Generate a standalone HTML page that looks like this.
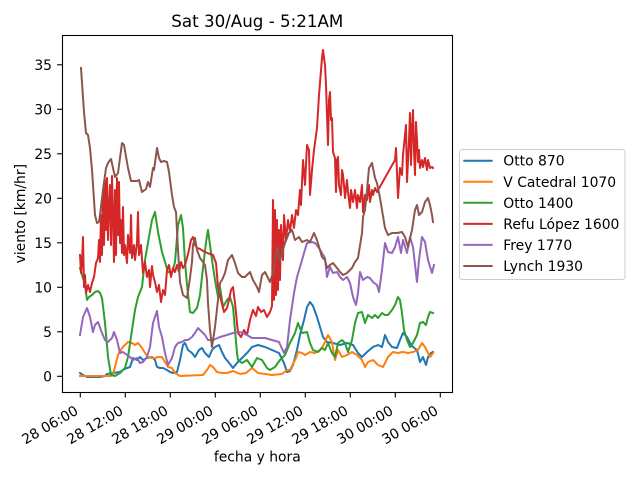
<!DOCTYPE html>
<html><head><meta charset="utf-8"><style>
html,body{margin:0;padding:0;background:#fff;}
svg{display:block;}
text{font-family:"DejaVu Sans","Liberation Sans",sans-serif;fill:#000;}
</style></head><body>
<svg width="640" height="480" viewBox="0 0 640 480" xmlns="http://www.w3.org/2000/svg">
<rect width="640" height="480" fill="#fff"/>
<text x="257.3" y="27" font-size="16.7" text-anchor="middle">Sat 30/Aug - 5:21AM</text>
<g fill="none" stroke-width="2" stroke-linejoin="round" stroke-linecap="square">
<polyline stroke="#1f77b4" points="80,373 83,375 87,377 95,377 100,377 105,376 107,374 113,373 120,372 123,370 127,368 130,367 133,358 137,360 140,357 143,360 147,358 152,357 155,360 157,367 160,368 163,368 167,370 170,372 173,373 177,372 180,360 183,345 185,343 188,350 192,353 195,357 199,350 202,348 205,353 209,357 212,350 215,347 219,345 222,352 225,358 230,364 233,368 237,363 242,358 247,353 252,347 258,345 265,347 272,350 279,353 284,363 287,372 290,371 293,365 297,350 300,335 304,320 307,307 310,302 313,306 317,317 320,327 323,337 327,342 333,343 340,345 347,343 353,345 358,353 362,357 367,352 373,347 378,345 382,347 385,335 388,342 392,347 397,348 400,340 403,333 407,337 410,343 413,347 417,350 420,362 423,357 426,365 428,357 431,353 433,352"/>
<polyline stroke="#ff7f0e" points="80,376 110,376 113,375 115,367 118,355 122,348 125,345 128,342 132,343 135,345 138,343 142,348 145,353 148,357 152,358 155,358 158,357 162,357 165,362 168,367 172,368 175,373 180,376 203,375 207,370 210,365 213,367 217,372 222,373 227,373 233,371 240,374 246,373 252,368 258,373 265,374 272,375 282,374 287,370 290,370 293,364 296,358 298,352 302,353 305,355 310,352 315,353 320,350 323,346 325,342 328,335 332,342 335,360 338,350 342,357 347,355 352,352 357,355 362,360 365,367 368,362 373,360 378,365 383,367 388,357 393,352 398,353 403,352 408,353 413,352 418,350 422,343 425,347 428,353 430,357 433,353"/>
<polyline stroke="#2ca02c" points="80,268 82,275 85,285 87,300 89,297 92,295 95,292 98,291 100,293 102,298 105,323 108,357 111,375 115,376 120,373 125,368 128,357 132,330 135,310 138,297 142,287 145,260 149,237 152,220 155,212 158,232 162,252 165,262 168,272 172,273 175,262 178,225 181,215 183,228 185,262 187,285 190,312 193,313 197,308 200,295 203,268 206,242 208,230 212,260 215,280 218,297 220,287 223,307 227,300 230,297 233,307 237,353 238,360 242,363 247,360 252,367 257,358 262,360 267,368 270,370 275,367 280,360 285,355 290,343 295,333 298,323 302,333 307,332 310,343 313,350 318,352 322,348 325,350 328,343 332,353 335,357 338,343 342,340 345,343 348,352 352,340 355,323 358,313 362,312 365,323 368,315 372,318 375,315 378,318 382,313 385,315 388,315 392,310 395,305 398,297 400,300 402,313 404,330 407,340 410,347 413,343 417,335 420,323 423,322 426,325 428,317 430,312 433,313"/>
<polyline stroke="#d62728" points="80,255 81,273 82,262 83,237 84,287 85,275 86,293 88,285 90,292 92,283 94,277 96,263 98,258 99,240 100,262 101,215 102,255 103,190 104,245 105,180 106,230 107,178 108,240 109,207 110,185 111,245 112,176 113,215 114,262 115,190 116,255 117,178 118,235 119,182 120,243 121,220 122,253 123,207 124,255 125,245 127,263 128,235 130,253 131,215 132,258 134,245 135,260 137,243 138,212 139,255 141,245 143,273 145,262 147,277 149,270 150,287 152,266 153,275 155,282 157,292 159,285 161,302 163,290 165,295 167,270 169,265 171,277 173,268 175,272 177,265 179,272 181,262 183,268 185,265 187,258 189,250 191,240 193,237 195,245 197,248 200,249 205,252 210,254 213,255 216,263 218,287 221,300 224,312 227,308 229,300 231,290 233,287 235,303 238,333 241,337 244,330 247,335 250,320 253,310 256,316 258,307 261,312 264,310 267,317 270,312 272,306 273,200 274,300 275,210 276,295 277,220 278,290 279,230 280,280 281,225 283,260 284,215 286,240 288,220 290,232 292,215 294,228 296,210 298,215 300,190 301,205 303,160 305,185 307,145 309,150 310,195 312,170 314,150 317,128 319,95 322,58 323,50 325,65 326,85 328,145 329,100 330,92 331,120 332,118 333,152 335,158 336,192 337,160 338,157 339,185 341,195 342,170 343,175 344,185 345,198 347,180 348,192 350,208 351,190 353,202 355,190 357,208 358,195 360,202 362,185 363,212 365,195 367,200 369,185 370,202 372,190 373,195 375,188 377,192 395,160 396,148 398,198 400,168 402,175 403,155 406,125 407,182 409,140 410,113 411,165 412,130 413,110 414,150 415,175 416,122 417,140 418,162 419,150 420,168 422,160 423,167 425,158 427,170 428,160 430,168 432,167 433,168"/>
<polyline stroke="#9467bd" points="80,335 83,317 87,308 90,317 93,332 95,325 98,322 102,333 105,340 108,342 112,338 114,332 117,340 120,353 123,352 127,355 130,357 133,360 137,358 140,363 143,362 147,357 150,347 153,323 157,311 159,327 162,337 165,353 168,365 172,358 175,347 178,343 182,342 185,340 188,340 192,337 195,333 198,328 202,332 205,335 208,340 213,340 220,337 227,335 233,333 240,332 247,335 252,338 259,338 265,338 272,340 279,342 284,353 287,347 290,320 294,293 297,277 300,267 304,253 307,243 312,242 315,243 319,248 322,253 325,258 327,277 330,267 333,273 337,272 340,277 343,280 347,277 350,283 353,297 356,305 358,293 360,272 363,280 367,277 370,278 373,282 377,285 379,292 382,270 385,243 388,252 392,253 395,247 398,237 401,253 403,240 407,253 410,237 413,247 417,282 419,260 422,237 425,242 428,260 432,273 434,265"/>
<polyline stroke="#8c564b" points="81,68 84,112 86,133 88,135 90,148 92,170 94,200 95,215 97,223 99,222 100,215 103,190 106,168 108,163 111,159 113,168 115,177 118,173 122,143 124,145 128,168 131,181 137,181 139,180 142,192 146,189 148,182 150,187 153,168 154,170 157,148 159,158 161,162 164,161 167,162 169,172 172,195 174,207 176,212 178,250 180,282 183,295 187,298 190,278 192,262 193,245 195,238 197,250 200,258 203,262 205,265 207,280 208,303 210,330 212,347 215,327 218,300 220,283 222,280 225,273 228,260 232,255 235,263 238,273 242,277 245,277 250,272 253,280 257,287 259,292 262,275 265,272 270,282 274,270 277,247 280,260 285,243 289,233 292,230 295,240 299,237 302,242 307,240 310,242 314,233 317,240 322,257 325,260 327,268 330,265 333,263 337,268 340,272 343,275 347,273 352,268 355,262 358,258 362,233 363,217 365,210 367,190 369,168 372,163 375,178 377,183 380,198 382,210 385,228 388,235 392,233 397,233 402,232 405,237 408,247 412,230 415,210 417,205 419,215 422,212 425,202 428,198 430,205 432,215 433,222"/>
</g>
<rect x="62.5" y="35.5" width="390" height="357" fill="none" stroke="#000" stroke-width="1.1"/>
<g stroke="#000" stroke-width="1.1">
<line x1="57.1" y1="376.3" x2="62" y2="376.3"/>
<line x1="57.1" y1="331.8" x2="62" y2="331.8"/>
<line x1="57.1" y1="287.3" x2="62" y2="287.3"/>
<line x1="57.1" y1="242.8" x2="62" y2="242.8"/>
<line x1="57.1" y1="198.3" x2="62" y2="198.3"/>
<line x1="57.1" y1="153.8" x2="62" y2="153.8"/>
<line x1="57.1" y1="109.3" x2="62" y2="109.3"/>
<line x1="57.1" y1="64.8" x2="62" y2="64.8"/>
<line x1="80.3" y1="393" x2="80.3" y2="397.5"/>
<line x1="125.3" y1="393" x2="125.3" y2="397.5"/>
<line x1="170.3" y1="393" x2="170.3" y2="397.5"/>
<line x1="215.3" y1="393" x2="215.3" y2="397.5"/>
<line x1="260.3" y1="393" x2="260.3" y2="397.5"/>
<line x1="305.3" y1="393" x2="305.3" y2="397.5"/>
<line x1="350.3" y1="393" x2="350.3" y2="397.5"/>
<line x1="395.3" y1="393" x2="395.3" y2="397.5"/>
<line x1="440.3" y1="393" x2="440.3" y2="397.5"/>
</g>
<g font-size="13.9" text-anchor="end">
<text x="52" y="381.3">0</text>
<text x="52" y="336.8">5</text>
<text x="52" y="292.3">10</text>
<text x="52" y="247.8">15</text>
<text x="52" y="203.3">20</text>
<text x="52" y="158.8">25</text>
<text x="52" y="114.3">30</text>
<text x="52" y="69.8">35</text>
<text x="79.2" y="413.5" transform="rotate(-30 79.2 413.5)">28 06:00</text>
<text x="124.2" y="413.5" transform="rotate(-30 124.2 413.5)">28 12:00</text>
<text x="169.2" y="413.5" transform="rotate(-30 169.2 413.5)">28 18:00</text>
<text x="214.2" y="413.5" transform="rotate(-30 214.2 413.5)">29 00:00</text>
<text x="259.2" y="413.5" transform="rotate(-30 259.2 413.5)">29 06:00</text>
<text x="304.2" y="413.5" transform="rotate(-30 304.2 413.5)">29 12:00</text>
<text x="349.2" y="413.5" transform="rotate(-30 349.2 413.5)">29 18:00</text>
<text x="394.2" y="413.5" transform="rotate(-30 394.2 413.5)">30 00:00</text>
<text x="439.2" y="413.5" transform="rotate(-30 439.2 413.5)">30 06:00</text>
</g>
<text x="257.3" y="461.5" font-size="13.9" text-anchor="middle">fecha y hora</text>
<text x="25" y="213.7" font-size="13.9" text-anchor="middle" transform="rotate(-90 25 213.7)">viento [km/hr]</text>
<rect x="459.5" y="149.5" width="165.5" height="130" rx="2.8" fill="#fff" fill-opacity="0.8" stroke="#cccccc" stroke-width="1"/>
<g stroke-width="2" fill="none">
<line x1="463.3" y1="160.7" x2="492.7" y2="160.7" stroke="#1f77b4"/>
<line x1="463.3" y1="181.8" x2="492.7" y2="181.8" stroke="#ff7f0e"/>
<line x1="463.3" y1="202.8" x2="492.7" y2="202.8" stroke="#2ca02c"/>
<line x1="463.3" y1="223.9" x2="492.7" y2="223.9" stroke="#d62728"/>
<line x1="463.3" y1="244.9" x2="492.7" y2="244.9" stroke="#9467bd"/>
<line x1="463.3" y1="266" x2="492.7" y2="266" stroke="#8c564b"/>
</g>
<g font-size="13.9">
<text x="503.3" y="165.7">Otto 870</text>
<text x="503.3" y="186.8">V Catedral 1070</text>
<text x="503.3" y="207.8">Otto 1400</text>
<text x="503.3" y="228.9">Refu López 1600</text>
<text x="503.3" y="249.9">Frey 1770</text>
<text x="503.3" y="271">Lynch 1930</text>
</g>
</svg>
</body></html>
